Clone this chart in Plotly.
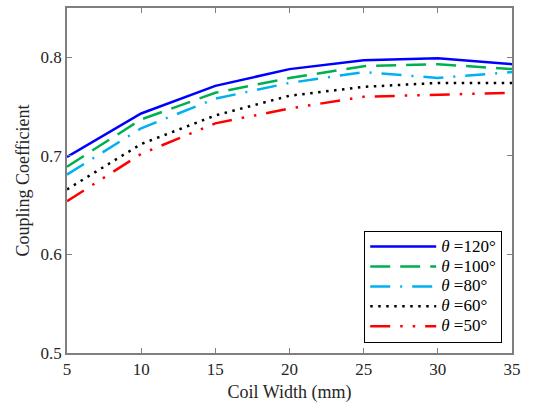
import plotly.graph_objects as go

# Coil width sweep (mm)
coil_width = [5, 10, 15, 20, 25, 30, 35]

# Coupling coefficient for each angle
k_120 = [0.699, 0.743, 0.771, 0.788, 0.797, 0.799, 0.793]
k_100 = [0.689, 0.737, 0.764, 0.779, 0.791, 0.793, 0.788]
k_80 = [0.681, 0.728, 0.758, 0.774, 0.785, 0.779, 0.785]
k_60 = [0.666, 0.712, 0.741, 0.761, 0.770, 0.774, 0.774]
k_50 = [0.654, 0.702, 0.733, 0.748, 0.760, 0.762, 0.764]

angles = ["120", "100", "80", "60", "50"]
series_values = [k_120, k_100, k_80, k_60, k_50]
series_colors = ["#0000FF", "#00B050", "#00B0F0", "#000000", "#FF0000"]
series_dash = ["solid", "20px,10px", "20px,10px,2px,10px", "2.5px,5.5px", "20px,10px,2.5px,10px,2.5px,10px"]

fig = go.Figure()
for ang, vals, col, dash in zip(angles, series_values, series_colors, series_dash):
    label = f'<span style="font-size:17px"><i>θ</i> ={ang}°</span>'
    fig.add_trace(go.Scatter(
        x=coil_width, y=vals, mode="lines", name=label,
        line=dict(color=col, width=2.5, dash=dash),
    ))

font_family = "Liberation Serif"
axis_common = dict(
    showline=True, linecolor="#7f7f7f", linewidth=1.5, mirror="ticks",
    ticks="inside", ticklen=5, tickcolor="#7f7f7f", tickwidth=1,
    showgrid=False, zeroline=False,
    tickfont=dict(family=font_family, size=17, color="#262626"),
)

fig.update_layout(
    width=539, height=409,
    margin=dict(l=67, r=27, t=6, b=56),
    paper_bgcolor="white", plot_bgcolor="white",
    font=dict(family=font_family, size=17, color="#262626"),
    xaxis=dict(range=[5, 35], tickvals=[5, 10, 15, 20, 25, 30, 35],
               title=dict(text="Coil Width (mm)", font=dict(family=font_family, size=18), standoff=7),
               **axis_common),
    yaxis=dict(range=[0.5, 0.85], tickvals=[0.5, 0.6, 0.7, 0.8],
               ticktext=["0.5", "0.6", "0.7", "0.8"],
               title=dict(text="Coupling Coefficient", font=dict(family=font_family, size=18), standoff=6),
               **axis_common),
    legend=dict(
        x=0.978, y=0.03, xanchor="right", yanchor="bottom",
        bgcolor="white", bordercolor="#000000", borderwidth=1,
        font=dict(family=font_family, size=13, color="#000000"),
        itemwidth=66, tracegroupgap=0,
    ),
    showlegend=True,
)

fig.write_html("out.html")
